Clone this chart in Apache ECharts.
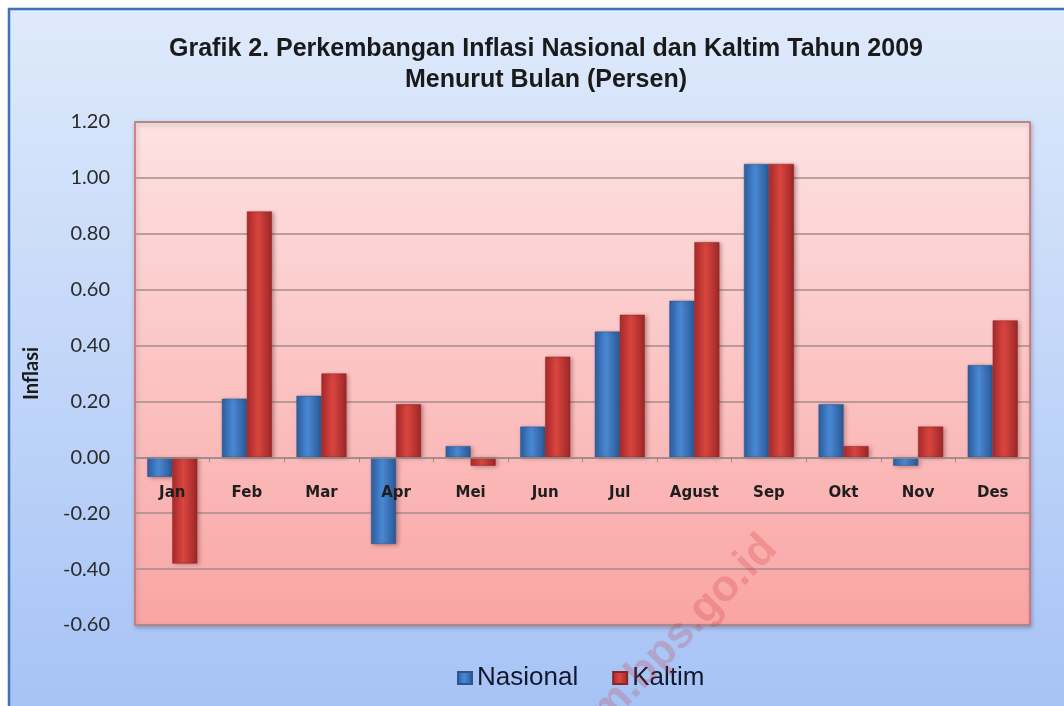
<!DOCTYPE html>
<html>
<head>
<meta charset="utf-8">
<script src="https://cdn.jsdelivr.net/npm/echarts@6/dist/echarts.min.js"></script>
<style>
html,body{margin:0;padding:0;background:#ffffff;}
#chart{width:1064px;height:706px;}
</style>
</head>
<body>
<div id="chart"></div>
<script>
const categories = ['Jan','Feb','Mar','Apr','Mei','Jun','Jul','Agust','Sep','Okt','Nov','Des'];
const nasional = [-0.07, 0.21, 0.22, -0.31, 0.04, 0.11, 0.45, 0.56, 1.05, 0.19, -0.03, 0.33];
const kaltim   = [-0.38, 0.88, 0.30, 0.19, -0.03, 0.36, 0.51, 0.77, 1.05, 0.04, 0.11, 0.49];
const titleLines = ['Grafik 2. Perkembangan Inflasi Nasional dan Kaltim Tahun 2009', 'Menurut Bulan (Persen)'];
const yAxisName = 'Inflasi';
const seriesNames = ['Nasional', 'Kaltim'];
const watermark = 'kaltim.bps.go.id';

const chart = echarts.init(document.getElementById('chart'), null, {renderer: 'canvas'});

const grad = (c0, c1, c2) => new echarts.graphic.LinearGradient(0, 0, 1, 0, [
  {offset: 0, color: c0}, {offset: 0.45, color: c1}, {offset: 1, color: c2}
]);
const blueFill = grad('#2c5f9f', '#4a88d4', '#2a5894');
const redFill = grad('#a92b2b', '#d9453f', '#9c2727');

chart.setOption({
  animation: false,
  graphic: [
    {
      type: 'rect', z: -10, silent: true,
      shape: {x: 9, y: 9, width: 1060, height: 700},
      style: {
        fill: new echarts.graphic.LinearGradient(0, 0, 0, 1, [
          {offset: 0, color: '#dfeafb'}, {offset: 1, color: '#a6c3f6'}
        ]),
        stroke: '#3f72b8', lineWidth: 2.5
      }
    },
    {
      type: 'text', z: 100, silent: true,
      x: 770, y: 542, rotation: 0.8,
      style: {
        text: watermark, fill: 'rgba(200,45,45,0.22)',
        font: 'bold 44px "Liberation Sans", Arial, sans-serif',
        align: 'right', verticalAlign: 'middle'
      }
    }
  ],
  title: {
    text: titleLines.join('\n'),
    left: 541, top: 29, textAlign: 'center',
    textStyle: {
      fontFamily: '"Liberation Sans", Arial, sans-serif',
      fontWeight: 'bold', fontSize: 25, lineHeight: 31, color: '#1a1a1a'
    }
  },
  legend: {
    left: 452, top: 660,
    itemWidth: 14, itemHeight: 12, itemGap: 34,
    icon: 'rect',
    textStyle: {fontFamily: '"Liberation Sans", Arial, sans-serif', fontSize: 26, color: '#14182a'},
    data: seriesNames
  },
  grid: {
    left: 135, right: 34, top: 122, bottom: 81,
    show: true,
    backgroundColor: new echarts.graphic.LinearGradient(0, 0, 0, 1, [
      {offset: 0, color: '#fde2e2'}, {offset: 1, color: '#f9a5a4'}
    ]),
    borderColor: '#d46a69', borderWidth: 1.5,
    shadowColor: 'rgba(60,60,90,0.35)', shadowBlur: 4, shadowOffsetX: 1, shadowOffsetY: 2
  },
  xAxis: {
    type: 'category',
    data: categories,
    z: 10,
    axisLine: {onZero: true, lineStyle: {color: '#9a8a88', width: 1.5}},
    axisTick: {show: true, length: 5, lineStyle: {color: '#9a8a88'}},
    axisLabel: {
      margin: -139, fontFamily: '"DejaVu Sans", Verdana, sans-serif',
      fontWeight: 'bold', fontSize: 15, color: '#1e1e1e'
    }
  },
  yAxis: {
    type: 'value', min: -0.6, max: 1.2, interval: 0.2,
    name: yAxisName, nameLocation: 'middle', nameGap: 93,
    nameTextStyle: {fontFamily: 'Lato, "Open Sans", sans-serif', fontWeight: 'bold', fontSize: 20, color: '#1a1a1a'},
    axisLine: {show: false},
    axisTick: {show: false},
    axisLabel: {
      margin: 25, fontFamily: 'Lato, "Open Sans", sans-serif', fontSize: 20, color: '#2a2a2a',
      formatter: v => v.toFixed(2)
    },
    splitLine: {lineStyle: {color: '#a48c8a', width: 1.5}}
  },
  series: [
    {
      name: seriesNames[0], type: 'bar', data: nasional,
      barWidth: 25, barGap: '0%',
      itemStyle: {color: blueFill, borderColor: '#2b5690', borderWidth: 0.5,
        shadowColor: 'rgba(80,30,30,0.35)', shadowBlur: 4, shadowOffsetX: 2, shadowOffsetY: 1}
    },
    {
      name: seriesNames[1], type: 'bar', data: kaltim,
      barWidth: 25, barGap: '0%',
      itemStyle: {color: redFill, borderColor: '#8e2323', borderWidth: 0.5,
        shadowColor: 'rgba(80,30,30,0.35)', shadowBlur: 4, shadowOffsetX: 2, shadowOffsetY: 1}
    }
  ]
});
</script>
</body>
</html>
